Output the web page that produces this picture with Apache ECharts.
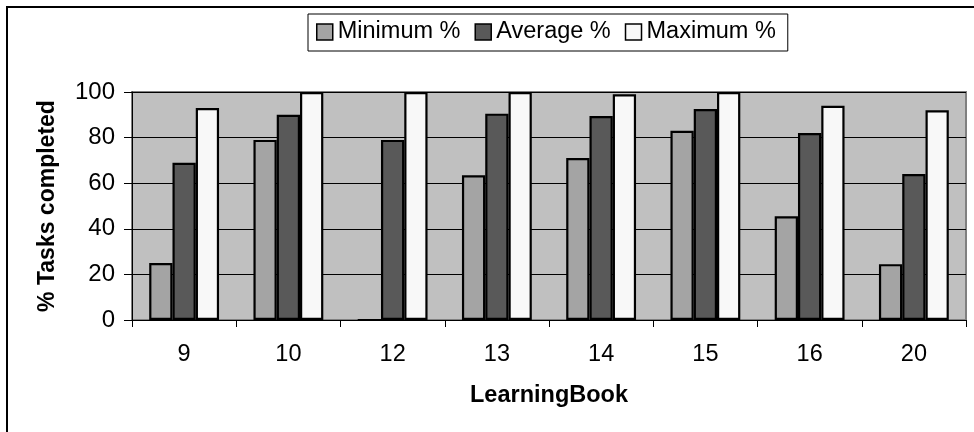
<!DOCTYPE html>
<html>
<head>
<meta charset="utf-8">
<script src="https://cdn.jsdelivr.net/npm/echarts@6/dist/echarts.min.js"></script>
<style>
html,body{margin:0;padding:0;background:#fff;}
#chart{width:974px;height:432px;}
</style>
</head>
<body>
<div id="chart"></div>
<script>
const categories = ['9', '10', '12', '13', '14', '15', '16', '20'];
const minimumPct = [25, 79, 0, 63.5, 71, 83, 45.5, 24.5];
const averagePct = [69, 90, 79, 90.5, 89.5, 92.5, 82, 64];
const maximumPct = [93, 100, 100, 100, 99, 100, 94, 92];
const seriesNames = ['Minimum %', 'Average %', 'Maximum %'];
const yTicks = [0, 20, 40, 60, 80, 100];

const FONT = 'Arial, "Liberation Sans", sans-serif';
const colors = ['#a4a4a4', '#595959', '#f8f8f8'];
const values = [minimumPct, averagePct, maximumPct];

const chart = echarts.init(document.getElementById('chart'), null, {renderer: 'canvas'});
chart.setOption({
  animation: false,
  backgroundColor: '#ffffff',
  graphic: [{
    type: 'rect',
    shape: {x: 7, y: 7, width: 1000, height: 500},
    style: {fill: 'none', stroke: '#000', lineWidth: 2},
    silent: true,
    z: 0
  }],
  legend: {
    data: seriesNames,
    left: 308,
    top: 14,
    padding: [6, 12, 7, 8],
    itemWidth: 16,
    itemHeight: 16,
    itemGap: 14,
    borderColor: '#000',
    borderWidth: 1,
    backgroundColor: '#fff',
    icon: 'rect',
    itemStyle: {borderColor: '#000', borderWidth: 1.5},
    textStyle: {fontFamily: FONT, fontSize: 23.5, color: '#000', padding: [0, 0, 0, 0]}
  },
  grid: {
    left: 132,
    right: 8,
    top: 92,
    bottom: 112,
    show: true,
    backgroundColor: '#c0c0c0',
    borderColor: '#808080',
    borderWidth: 2,
    containLabel: false
  },
  xAxis: {
    type: 'category',
    data: categories,
    boundaryGap: true,
    name: 'LearningBook',
    nameLocation: 'middle',
    nameGap: 64,
    nameTextStyle: {fontFamily: FONT, fontSize: 23.5, fontWeight: 'bold', color: '#000'},
    axisLine: {show: true, lineStyle: {color: '#000', width: 1}},
    axisTick: {show: true, length: 7, lineStyle: {color: '#000'}},
    axisLabel: {fontFamily: FONT, fontSize: 23.5, color: '#000', margin: 23},
    splitLine: {show: false}
  },
  yAxis: {
    type: 'value',
    min: yTicks[0],
    max: yTicks[yTicks.length - 1],
    interval: yTicks[1] - yTicks[0],
    name: '% Tasks completed',
    nameLocation: 'middle',
    nameGap: 73,
    nameTextStyle: {fontFamily: FONT, fontSize: 23, fontWeight: 'bold', color: '#000'},
    axisLine: {show: true, lineStyle: {color: '#000', width: 1}},
    axisTick: {show: true, length: 8, lineStyle: {color: '#000'}},
    axisLabel: {fontFamily: FONT, fontSize: 24, color: '#000', margin: 17},
    splitLine: {show: true, lineStyle: {color: '#000', width: 1}}
  },
  series: seriesNames.map((name, i) => ({
    name: name,
    type: 'bar',
    data: values[i],
    barGap: '0%',
    barCategoryGap: '33%',
    itemStyle: {color: colors[i], borderColor: '#000', borderWidth: 2.2},
    z: 3
  }))
});
</script>
</body>
</html>
